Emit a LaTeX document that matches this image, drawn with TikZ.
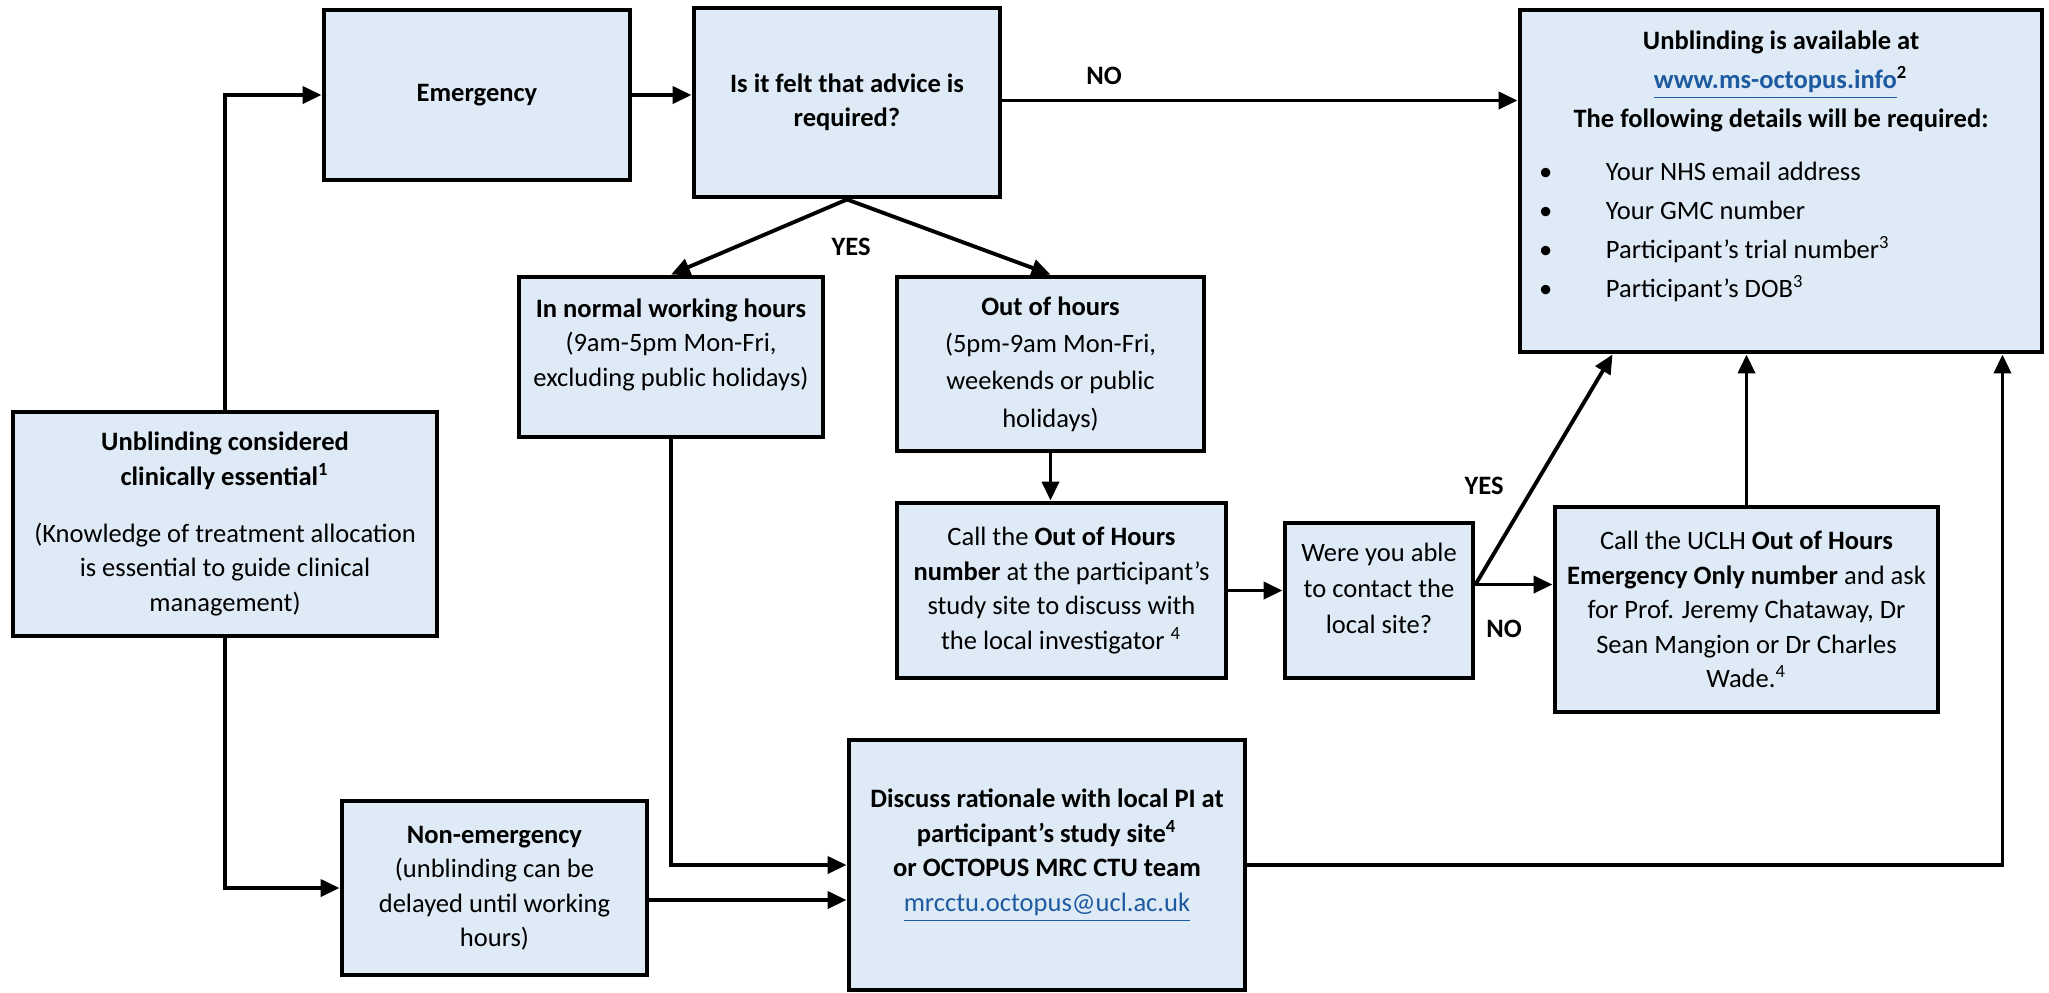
\documentclass[tikz,border=0pt]{standalone}
\usepackage{fontspec}
\setmainfont{Carlito}
\usetikzlibrary{arrows.meta}
\definecolor{boxblue}{HTML}{DEEAF6}
\definecolor{linkblue}{HTML}{1E5AA0}

\begin{document}
\begin{tikzpicture}[
            box/.style={draw, rectangle, line width=1.4pt, fill=boxblue, align=center, inner sep=2pt, font=\fontsize{7.55}{9.8}\selectfont},
            flow/.style={-{Triangle[length=0.19cm,width=0.17cm]}, line width=1.1pt},
            lbl/.style={font=\fontsize{7.55}{9.8}\selectfont\bfseries}
        ]
            \useasboundingbox (0,0) rectangle (20.49,-9.92);

            \node[box, minimum width=3.06cm, minimum height=1.70cm] (emerg) at (4.77,-0.95) {\textbf{Emergency}};
            \node[box, minimum width=3.06cm, minimum height=1.89cm] (advice) at (8.47,-1.025) {\textbf{Is it felt that advice is}\\\textbf{required?}};
            \node[box, minimum width=5.22cm, minimum height=3.42cm, font=\fontsize{7.55}{11.1}\selectfont] (avail) at (17.81,-1.81) {%
                \textbf{Unblinding is available at}\\
                \textbf{{\color{linkblue}\underline{www.ms-octopus.info}}\textsuperscript{2}}\\
                \textbf{The following details will be required:}\\[0.14cm]
                \makebox[5.0cm][l]{\hspace{0.08cm}\makebox[0.67cm][l]{\textbullet}Your NHS email address}\\
                \makebox[5.0cm][l]{\hspace{0.08cm}\makebox[0.67cm][l]{\textbullet}Your GMC number}\\
                \makebox[5.0cm][l]{\hspace{0.08cm}\makebox[0.67cm][l]{\textbullet}Participant’s trial number\textsuperscript{3}}\\
                \makebox[5.0cm][l]{\hspace{0.08cm}\makebox[0.67cm][l]{\textbullet}Participant’s DOB\textsuperscript{3}}\\[-0.05cm]
                \mbox{}};
            \node[box, minimum width=4.24cm, minimum height=2.24cm] (essential) at (2.25,-5.24) {\textbf{Unblinding considered}\\\textbf{clinically essential\textsuperscript{1}}\\[0.23cm]
                (Knowledge of treatment allocation\\is essential to guide clinical\\management)};
            \node[box, minimum width=3.04cm, minimum height=1.60cm] (normal) at (6.71,-3.57) {\textbf{In normal working hours}\\(9am-5pm Mon-Fri,\\excluding public holidays)\\[-0.05cm]\mbox{}};
            \node[box, minimum width=3.07cm, minimum height=1.74cm, font=\fontsize{7.55}{10.6}\selectfont] (ooh) at (10.505,-3.64) {\textbf{Out of hours}\\(5pm-9am Mon-Fri,\\weekends or public\\holidays)};
            \node[box, minimum width=3.29cm, minimum height=1.75cm] (callooh) at (10.615,-5.905) {Call the \textbf{Out of Hours}\\\textbf{number} at the participant’s\\study site to discuss with\\the local investigator \textsuperscript{4}};
            \node[box, minimum width=1.88cm, minimum height=1.55cm, font=\fontsize{7.55}{10.3}\selectfont] (contact) at (13.79,-6.005) {Were you able\\to contact the\\local site?\\[-0.12cm]\mbox{}};
            \node[box, minimum width=3.83cm, minimum height=2.05cm] (uclh) at (17.465,-6.095) {Call the UCLH \textbf{Out of Hours}\\\textbf{Emergency Only number} and ask\\for Prof. Jeremy Chataway, Dr\\Sean Mangion or Dr Charles\\Wade.\textsuperscript{4}};
            \node[box, minimum width=3.05cm, minimum height=1.74cm] (nonemerg) at (4.945,-8.88) {\textbf{Non-emergency}\\(unblinding can be\\delayed until working\\hours)};
            \node[box, minimum width=3.96cm, minimum height=2.50cm] (discuss) at (10.47,-8.65) {\textbf{Discuss rationale with local PI at}\\\textbf{participant’s study site\textsuperscript{4}}\\\textbf{or OCTOPUS MRC CTU team}\\{\color{linkblue}\underline{mrcctu.octopus@ucl.ac.uk}}\\[-0.05cm]\mbox{}};

            \node[lbl] (no1) at (11.04,-0.76) {NO};
            \node[lbl] (yes1) at (8.51,-2.47) {YES};
            \node[lbl] (yes2) at (14.84,-4.86) {YES};
            \node[lbl] (no2) at (15.04,-6.29) {NO};
            \coordinate (fork) at ([yshift=0.16cm]contact.east);

            \draw[flow] (essential.north) |- (emerg.west);
            \draw[flow] (essential.south) |- (nonemerg.west);
            \draw[flow] (emerg.east) -- (emerg.east -| advice.west);
            \draw[flow] ([yshift=0.02cm]advice.east) -- ([yshift=0.02cm]advice.east -| avail.west);
            \draw[flow] (advice.south) -- (normal.north);
            \draw[flow] (advice.south) -- (ooh.north);
            \draw[flow] (ooh.south) -- (ooh.south |- callooh.north);
            \draw[flow] (callooh.east) -- (callooh.east -| contact.west);
            \draw[flow] (fork) -- (fork -| uclh.west);
            \draw[flow] (fork) -- ([xshift=0.95cm]avail.south west);
            \draw[flow] (uclh.north) -- (uclh.north |- avail.south);
            \draw[flow] (normal.south) |- (discuss.west);
            \draw[flow] ([yshift=-0.12cm]nonemerg.east) -- ([yshift=-0.12cm]nonemerg.east -| discuss.west);
            \draw[flow] (discuss.east) -| ([xshift=-0.42cm]avail.south east);
        \end{tikzpicture}
\end{document}
